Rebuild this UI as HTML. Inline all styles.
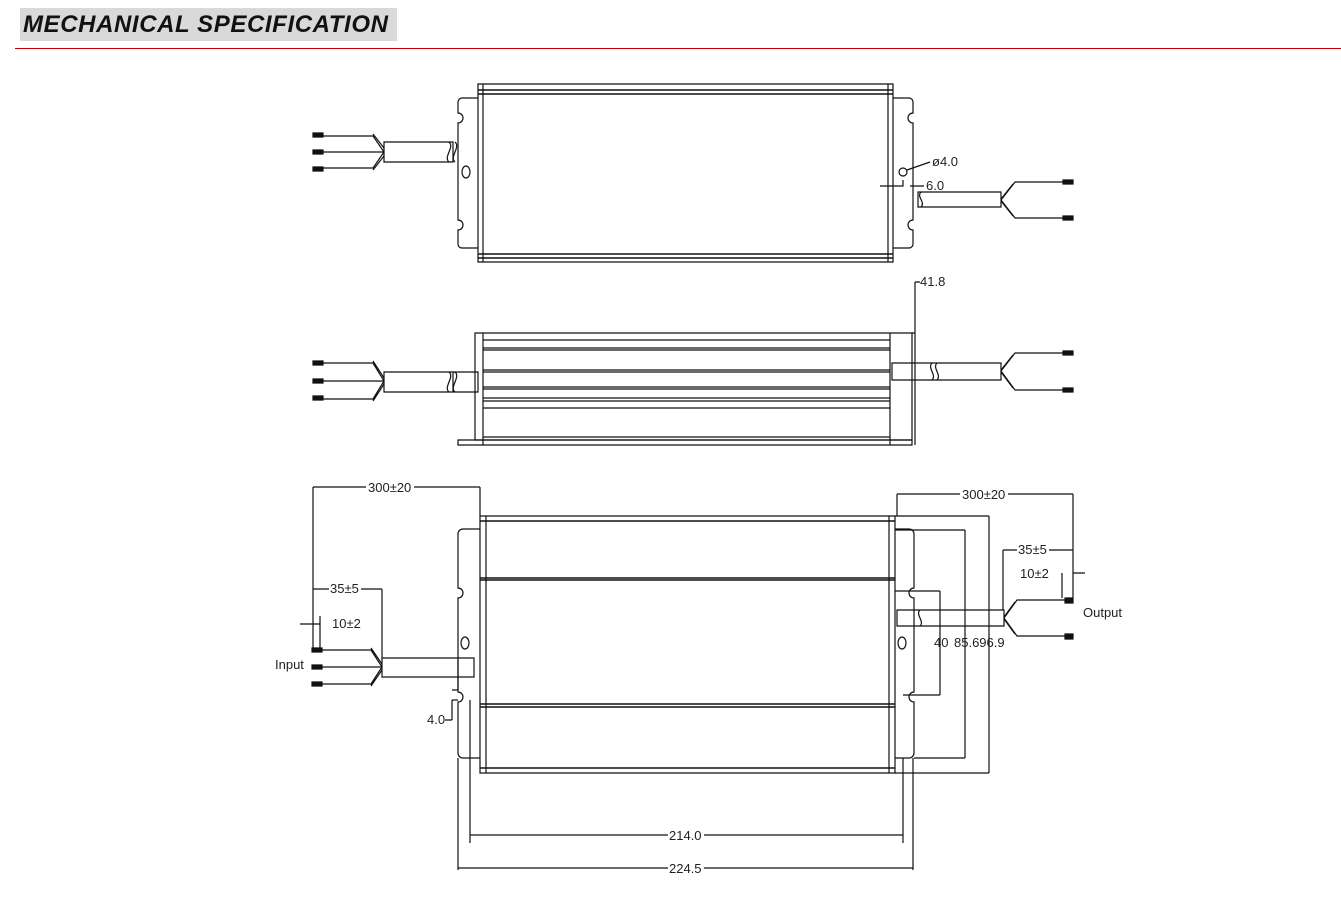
<!DOCTYPE html>
<html><head><style>
body{margin:0;background:#fff;width:1341px;height:919px;overflow:hidden;position:relative;font-family:"Liberation Sans",sans-serif}
.hd{position:absolute;left:20px;top:8px;width:377px;height:33px;background:#d9d9d9;font-weight:bold;font-style:italic;font-size:24px;letter-spacing:0.6px;line-height:34px;padding-left:3px;box-sizing:border-box;color:#111;white-space:nowrap}
.rl{position:absolute;left:15px;top:48px;width:1326px;height:1px;background:#c00000}
svg{position:absolute;left:0;top:0}
text{font-family:"Liberation Sans Narrow","Liberation Sans",sans-serif;font-size:13px;fill:#222;stroke:none}
</style></head><body>
<div class="hd">MECHANICAL SPECIFICATION</div><div class="rl"></div>
<svg width="1341" height="919" viewBox="0 0 1341 919" fill="none" stroke="#111" stroke-width="1.2">
<!-- VIEW 1 -->
<path d="M478 84H893V262H478Z"/>
<path d="M478 90H893M478 94H893M478 254H893M478 258H893" stroke-width="1.5"/>
<path d="M483 84V262M888 84V262"/>
<path d="M478 98H462a4 4 0 0 0-4 4V113a5 5 0 0 1 0 10V220a5 5 0 0 1 0 10V244a4 4 0 0 0 4 4H478"/>
<path d="M893 98H909a4 4 0 0 1 4 4V113a5 5 0 0 0 0 10V220a5 5 0 0 0 0 10V244a4 4 0 0 1-4 4H893"/>
<ellipse cx="466" cy="172" rx="4" ry="6"/>
<path d="M384 142H453V162H384Z"/><path d="M449 142c6 5-6 15 0 20M455 142c6 5-6 15 0 20"/>
<path d="M384 152L373 136H323M384 152L373 168H323M384 152H323M384 148L373 134M384 156L373 170"/>
<path d="M313 133h10v4h-10zM313 150h10v4h-10zM313 167h10v4h-10z" fill="#111"/>
<path d="M918 192H1001V207H918Z"/><path d="M921 192c-5 5 5 10 0 15"/>
<path d="M1001 200L1015 182H1063M1001 200L1015 218H1063M1001 199L1013 184M1001 201L1013 216"/>
<path d="M1063 180h10v4h-10zM1063 216h10v4h-10z" fill="#111"/>
<circle cx="903" cy="172" r="4"/><path d="M907 170L930 162M880 186H903V180M910 186H924"/>
<text x="932" y="166" font-size="11">ø4.0</text><text x="926" y="190" font-size="11">6.0</text>
<!-- VIEW 2 -->
<path d="M475 333H912V440H475Z"/><path d="M458 440H912V445H458Z"/>
<path d="M483 333V445M890 333V445"/>
<path d="M483 340H890M483 348H890M483 350H890M483 370H890M483 372H890M483 387H890M483 389H890M483 398H890M483 401H890M483 408H890M483 437H890" stroke-width="1.3"/>
<path d="M915 282V445M912 333H915M915 282H920"/><text x="920" y="286" font-size="11">41.8</text>
<path d="M384 372H453V392H384Z"/><path d="M453 372H478V392H453M449 372c6 5-6 15 0 20M455 372c6 5-6 15 0 20"/>
<path d="M384 381L373 363H323M384 381L373 399H323M384 381H323M384 378L373 361M384 384L373 401"/>
<path d="M313 361h10v4h-10zM313 379h10v4h-10zM313 396h10v4h-10z" fill="#111"/>
<path d="M892 363H1001V380H892Z"/><path d="M932 363c-5 5 5 12 0 17M937 363c-5 5 5 12 0 17"/>
<path d="M1001 371L1015 353H1063M1001 371L1015 390H1063M1001 370L1013 355M1001 372L1013 388"/>
<path d="M1063 351h10v4h-10zM1063 388h10v4h-10z" fill="#111"/>
<!-- VIEW 3 -->
<path d="M480 516H895V773H480Z"/>
<path d="M480 521H895M480 768H895M480 580H895M480 578H895M480 704H895M480 707H895" stroke-width="1.5"/>
<path d="M486 516V773M889 516V773"/>
<path d="M480 529H463a5 5 0 0 0-5 5V588a5 5 0 0 1 0 10V692a5 5 0 0 1 0 10V753a5 5 0 0 0 5 5H480"/>
<path d="M895 529H909a5 5 0 0 1 5 5V588a5 5 0 0 0 0 10V692a5 5 0 0 0 0 10V753a5 5 0 0 1-5 5H895"/>
<ellipse cx="465" cy="643" rx="4" ry="6"/><ellipse cx="902" cy="643" rx="4" ry="6"/>
<path d="M382 658H474V677H382Z"/>
<path d="M382 667L371 650H322M382 667L371 684H322M382 667H322M382 664L371 648M382 670L371 686"/>
<path d="M312 648h10v4h-10zM312 665h10v4h-10zM312 682h10v4h-10z" fill="#111"/>
<path d="M897 610H1004V626H897Z"/><path d="M920 610c-5 4 5 12 0 16"/>
<path d="M1004 618L1017 600H1068M1004 618L1017 636H1068M1004 617L1015 602M1004 619L1015 634"/>
<path d="M1065 598h8v5h-8zM1065 634h8v5h-8z" fill="#111"/>
<!-- dims -->
<path d="M313 487H480M313 487V648M480 487V516M897 494H1073M1073 494V598M897 494V516"/>
<path d="M313 589H382M382 589V658M313 624H320M300 624H313M320 616V648M1003 550H1073M1003 550V610M1062 573V598M1073 573H1085"/>
<path d="M895 591H940M940 591V695M903 695H940M895 530H965M965 530V758M914 758H965M895 516H989M989 516V773M895 773H989"/>
<path d="M458 758V870M470 700V843M903 758V843M913 758V870M470 835H903M458 868H913"/>
<path d="M458 660V690M452 690H458M452 700H458M452 700V720M445 720H452"/>
<rect x="366" y="480" width="48" height="14" fill="#fff" stroke="none"/>
<text x="368" y="492">300±20</text>
<rect x="960" y="487" width="48" height="14" fill="#fff" stroke="none"/>
<text x="962" y="499">300±20</text>
<rect x="329" y="582" width="32" height="14" fill="#fff" stroke="none"/>
<text x="330" y="593">35±5</text>
<text x="332" y="628">10±2</text>
<rect x="1017" y="543" width="32" height="14" fill="#fff" stroke="none"/>
<text x="1018" y="554">35±5</text>
<text x="1020" y="578">10±2</text>
<text x="275" y="669" font-size="11">Input</text>
<text x="1083" y="617" font-size="11">Output</text>
<text x="934" y="647" font-size="11">40</text>
<text x="954" y="647" font-size="11">85.696.9</text>
<text x="427" y="724" font-size="11">4.0</text>
<rect x="668" y="828" width="36" height="14" fill="#fff" stroke="none"/>
<text x="669" y="840">214.0</text>
<rect x="668" y="861" width="36" height="14" fill="#fff" stroke="none"/>
<text x="669" y="873">224.5</text>
</svg>
</body></html>
